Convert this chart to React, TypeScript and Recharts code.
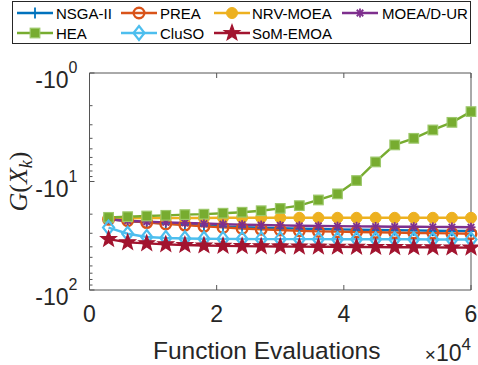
import React from 'react';
import { LineChart, Line, XAxis, YAxis, Legend } from 'recharts';

// Function evaluations (x 10^4)
const evals = [0.3, 0.6, 0.9, 1.2, 1.5, 1.8, 2.1, 2.4, 2.7, 3.0, 3.3, 3.6, 3.9, 4.2, 4.5, 4.8, 5.1, 5.4, 5.7, 6.0];

// G(X_k) values (negative, log-scaled magnitude)
const nsga2 = [-22.2, -23.2, -23.8, -24.4, -25.0, -25.5, -26.0, -26.4, -26.7, -27.0, -27.2, -27.4, -27.6, -27.8, -28.0, -28.1, -28.2, -28.4, -28.5, -28.6];
const prea = [-22.3, -23.0, -23.9, -24.6, -25.2, -25.9, -26.5, -27.1, -27.6, -28.0, -28.5, -28.8, -29.0, -29.2, -29.4, -29.6, -29.8, -29.9, -30.1, -30.3];
const nrvmoea = [-21.8, -21.8, -21.7, -21.7, -21.7, -21.7, -21.6, -21.6, -21.6, -21.6, -21.6, -21.6, -21.6, -21.6, -21.6, -21.6, -21.6, -21.6, -21.6, -21.6];
const moeadur = [-22.3, -23.0, -23.5, -23.8, -24.1, -24.4, -24.7, -25.0, -25.2, -25.4, -25.6, -25.7, -25.8, -25.9, -26.0, -26.1, -26.1, -26.2, -26.3, -26.4];
const hea = [-21.4, -21.1, -20.8, -20.5, -20.2, -20.0, -19.6, -19.2, -18.6, -17.7, -16.7, -14.8, -13.0, -9.8, -6.6, -4.6, -4.0, -3.35, -2.85, -2.27];
const cluso = [-26.6, -30.3, -32.5, -33.2, -33.5, -33.7, -33.8, -33.9, -34.0, -34.0, -34.0, -34.0, -34.1, -34.1, -34.1, -34.1, -34.1, -34.2, -34.2, -34.2];
const somemoa = [-34.0, -36.4, -37.2, -38.0, -38.5, -38.9, -39.2, -39.4, -39.6, -39.7, -39.8, -39.9, -40.0, -40.1, -40.2, -40.3, -40.4, -40.5, -40.6, -40.7];

const xTicks = [0, 2, 4, 6];
const yTicks = [1, 2, 3, 4, 5, 6, 7, 8, 9, 10, 20, 30, 40, 50, 60, 70, 80, 90, 100];

type MarkerType = 'plus' | 'circle' | 'dot' | 'asterisk' | 'square' | 'diamond' | 'pentagram';

const series: { key: string; name: string; color: string; marker: MarkerType; values: number[] }[] = [
  { key: 'nsga2', name: 'NSGA-II', color: '#0072BD', marker: 'plus', values: nsga2 },
  { key: 'prea', name: 'PREA', color: '#D95319', marker: 'circle', values: prea },
  { key: 'nrvmoea', name: 'NRV-MOEA', color: '#EDB120', marker: 'dot', values: nrvmoea },
  { key: 'moeadur', name: 'MOEA/D-UR', color: '#7E2F8E', marker: 'asterisk', values: moeadur },
  { key: 'hea', name: 'HEA', color: '#77AC30', marker: 'square', values: hea },
  { key: 'cluso', name: 'CluSO', color: '#4DBEEE', marker: 'diamond', values: cluso },
  { key: 'somemoa', name: 'SoM-EMOA', color: '#A2142F', marker: 'pentagram', values: somemoa },
];

const data = evals.map((x, i) => {
  const row: Record<string, number> = { x };
  series.forEach((s) => {
    row[s.key] = -s.values[i];
  });
  return row;
});

const AX = '#555555';
const TXT = '#262626';
const SANS = '"Liberation Sans", Arial, Helvetica, sans-serif';
const SERIF = '"Liberation Serif", "Times New Roman", serif';

function Marker({ type, color, cx, cy }: { type: MarkerType; color: string; cx: number; cy: number }) {
  switch (type) {
    case 'plus':
      return (
        <g>
          <line x1={cx - 5.5} y1={cy} x2={cx + 5.5} y2={cy} stroke={color} strokeWidth={1.8} />
          <line x1={cx} y1={cy - 5.5} x2={cx} y2={cy + 5.5} stroke={color} strokeWidth={1.8} />
        </g>
      );
    case 'circle':
      return <circle cx={cx} cy={cy} r={5.3} fill="none" stroke={color} strokeWidth={2.4} />;
    case 'dot':
      return <circle cx={cx} cy={cy} r={5.5} fill={color} stroke={color} strokeWidth={1} />;
    case 'asterisk': {
      const r = 4.5;
      const d = r * 0.72;
      return (
        <g stroke={color} strokeWidth={1.8}>
          <line x1={cx - r} y1={cy} x2={cx + r} y2={cy} />
          <line x1={cx} y1={cy - r} x2={cx} y2={cy + r} />
          <line x1={cx - d} y1={cy - d} x2={cx + d} y2={cy + d} />
          <line x1={cx - d} y1={cy + d} x2={cx + d} y2={cy - d} />
        </g>
      );
    }
    case 'square':
      return <rect x={cx - 4.8} y={cy - 4.8} width={9.6} height={9.6} fill={color} stroke="#9CC86A" strokeWidth={1.2} />;
    case 'diamond':
      return (
        <polygon
          points={`${cx},${cy - 7} ${cx + 5.5},${cy} ${cx},${cy + 7} ${cx - 5.5},${cy}`}
          fill="none"
          stroke={color}
          strokeWidth={2.2}
        />
      );
    case 'pentagram': {
      const pts: string[] = [];
      for (let k = 0; k < 10; k++) {
        const r = k % 2 === 0 ? 8.2 : 3.4;
        const a = -Math.PI / 2 + (k * Math.PI) / 5;
        pts.push(`${cx + r * Math.cos(a)},${cy + r * Math.sin(a)}`);
      }
      return <polygon points={pts.join(' ')} fill={color} stroke={color} strokeWidth={1.2} />;
    }
  }
  return null;
}

const isMajor = (v: number) => {
  const l = Math.log10(v);
  return Math.abs(l - Math.round(l)) < 1e-9;
};

const YTickLeft = (props: any) => {
  const { x, y, payload } = props;
  const v = payload.value;
  const major = isMajor(v);
  const exp = Math.round(Math.log10(v));
  return (
    <g>
      <line x1={x} x2={x + (major ? 5 : 3)} y1={y} y2={y} stroke={AX} strokeWidth={1} />
      {major && (
        <text x={x - 12} y={y + 15} textAnchor="end" fontSize={23} fill={TXT} fontFamily={SANS}>
          -10
          <tspan dy={-15} fontSize={16}>
            {exp}
          </tspan>
        </text>
      )}
    </g>
  );
};

const YTickRight = (props: any) => {
  const { x, y, payload } = props;
  const major = isMajor(payload.value);
  return <line x1={x} x2={x - (major ? 5 : 3)} y1={y} y2={y} stroke={AX} strokeWidth={1} />;
};

const XTickBottom = (props: any) => {
  const { x, y, payload } = props;
  return (
    <g>
      <line x1={x} x2={x} y1={y} y2={y - 5} stroke={AX} strokeWidth={1} />
      <text x={x} y={y + 32} textAnchor="middle" fontSize={23} fill={TXT} fontFamily={SANS}>
        {payload.value}
      </text>
    </g>
  );
};

const XTickTop = (props: any) => {
  const { x, y } = props;
  return <line x1={x} x2={x} y1={y} y2={y + 5} stroke={AX} strokeWidth={1} />;
};

const legendCols = [17, 121, 214, 342];
const legendTextX = [56, 160, 252, 382];
const legendRows = [13, 33];

const LegendContent = () => (
  <svg width={478} height={46} style={{ display: 'block' }}>
    <rect x={12.5} y={1.5} width={458} height={42} fill="#ffffff" stroke={TXT} strokeWidth={1} />
    {series.map((s, i) => {
      const col = i % 4;
      const row = Math.floor(i / 4);
      const lx = legendCols[col];
      const ly = legendRows[row];
      return (
        <g key={s.key}>
          <line x1={lx} x2={lx + 36} y1={ly} y2={ly} stroke={s.color} strokeWidth={2.4} />
          <Marker type={s.marker} color={s.color} cx={lx + 18} cy={ly} />
          <text x={legendTextX[col]} y={ly + 5.5} fontSize={15} fill="#000" fontFamily={SANS}>
            {s.name}
          </text>
        </g>
      );
    })}
  </svg>
);

const YLabel = () => (
  <text
    transform="translate(27, 181.5) rotate(-90)"
    textAnchor="middle"
    fontSize={26}
    fill={TXT}
    fontFamily={SERIF}
  >
    <tspan fontStyle="italic">G</tspan>
    <tspan>(</tspan>
    <tspan fontStyle="italic">X</tspan>
    <tspan fontStyle="italic" fontSize={18} dy={5}>k</tspan>
    <tspan dy={-5}>)</tspan>
  </text>
);

const XLabel = () => (
  <g>
    <text x={153} y={359} textAnchor="start" fontSize={24.5} fill={TXT} fontFamily={SANS}>
      Function Evaluations
    </text>
    <text x={471} y={361} textAnchor="end" fontSize={23} fill={TXT} fontFamily={SANS}>
      <tspan fontSize={19}>×</tspan>10
      <tspan dy={-11} fontSize={17}>
        4
      </tspan>
    </text>
  </g>
);

export default function App() {
  return (
    <div style={{ position: 'absolute', left: 0, top: 0, background: '#ffffff' }}>
      <LineChart width={478} height={365} data={data} margin={{ top: 63, right: 0, bottom: 0, left: 0 }}>
        <XAxis
          dataKey="x"
          type="number"
          domain={[0, 6]}
          ticks={xTicks}
          interval={0}
          height={75}
          tickSize={0}
          tickMargin={0}
          tickLine={false}
          axisLine={{ stroke: AX }}
          tick={<XTickBottom />}
          label={{ content: () => <XLabel /> }}
        />
        <XAxis
          xAxisId="top"
          orientation="top"
          dataKey="x"
          type="number"
          domain={[0, 6]}
          ticks={xTicks}
          interval={0}
          height={10}
          tickSize={0}
          tickMargin={0}
          tickLine={false}
          axisLine={{ stroke: AX }}
          tick={<XTickTop />}
        />
        <YAxis
          type="number"
          scale="log"
          domain={[1, 100]}
          reversed
          ticks={yTicks}
          interval={0}
          width={89.5}
          tickSize={0}
          tickMargin={0}
          tickLine={false}
          axisLine={{ stroke: AX }}
          tick={<YTickLeft />}
          label={{ content: () => <YLabel /> }}
        />
        <YAxis
          yAxisId="right"
          orientation="right"
          type="number"
          scale="log"
          domain={[1, 100]}
          reversed
          ticks={yTicks}
          interval={0}
          width={7}
          tickSize={0}
          tickMargin={0}
          tickLine={false}
          axisLine={{ stroke: AX }}
          tick={<YTickRight />}
        />
        <Legend
          layout="horizontal"
          verticalAlign="middle"
          align="center"
          wrapperStyle={{ position: 'absolute', left: 0, top: 0, width: 478, height: 46 }}
          content={() => <LegendContent />}
        />
        {series.map((s) => (
          <Line
            key={s.key}
            dataKey={s.key}
            name={s.name}
            stroke={s.color}
            strokeWidth={2.4}
            type="linear"
            isAnimationActive={false}
            activeDot={false}
            dot={(p: any) => (
              <Marker key={`${s.key}-${p.index}`} type={s.marker} color={s.color} cx={p.cx} cy={p.cy} />
            )}
          />
        ))}
      </LineChart>
    </div>
  );
}
